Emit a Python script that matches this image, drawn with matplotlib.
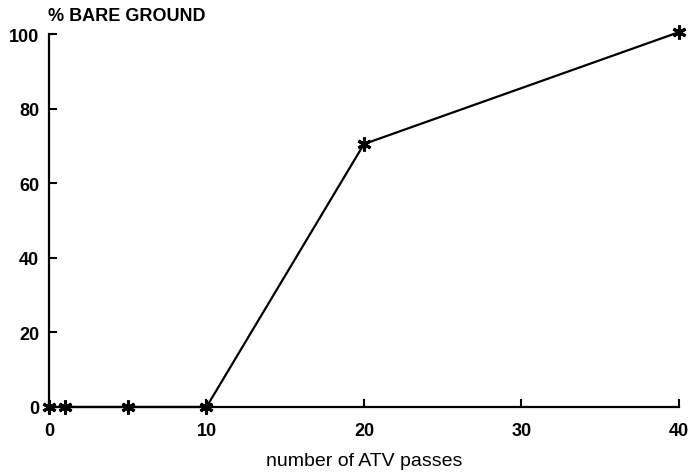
import matplotlib.pyplot as plt

passes = [0, 1, 5, 10, 20, 40]
bare_ground = [0, 0, 0, 0, 70.5, 100.5]
x_ticks = [0, 10, 20, 30, 40]
y_ticks = [0, 20, 40, 60, 80, 100]

fig = plt.figure(figsize=(6.91, 4.77), dpi=100)
ax = fig.add_axes([0.0709, 0.1447, 0.9117, 0.7819])

ax.plot(passes, bare_ground, color='black', lw=1.6,
        marker=(6, 2, 0), markersize=10, markeredgewidth=2.2, clip_on=False)

ax.set_xlim(0, 40)
ax.set_ylim(0, 100)
ax.spines['top'].set_visible(False)
ax.spines['right'].set_visible(False)
ax.spines['left'].set_linewidth(1.6)
ax.spines['bottom'].set_linewidth(1.6)

ax.set_xticks(x_ticks)
ax.set_yticks(y_ticks)
ax.tick_params(direction='in', length=6, width=1.5, labelsize=13)
ax.tick_params(axis='x', pad=11)
ax.tick_params(axis='y', pad=7)
for lab in ax.get_xticklabels() + ax.get_yticklabels():
    lab.set_fontweight('bold')
    lab.set_family('Liberation Sans')

ax.set_xlabel("number of ATV passes", fontsize=14, family='Liberation Sans', labelpad=9)
ax.text(-0.002, 1.028, "% BARE GROUND", transform=ax.transAxes, fontsize=13,
        fontweight='bold', family='Liberation Sans', ha='left', va='bottom')

fig.savefig("out.png", dpi=100)
